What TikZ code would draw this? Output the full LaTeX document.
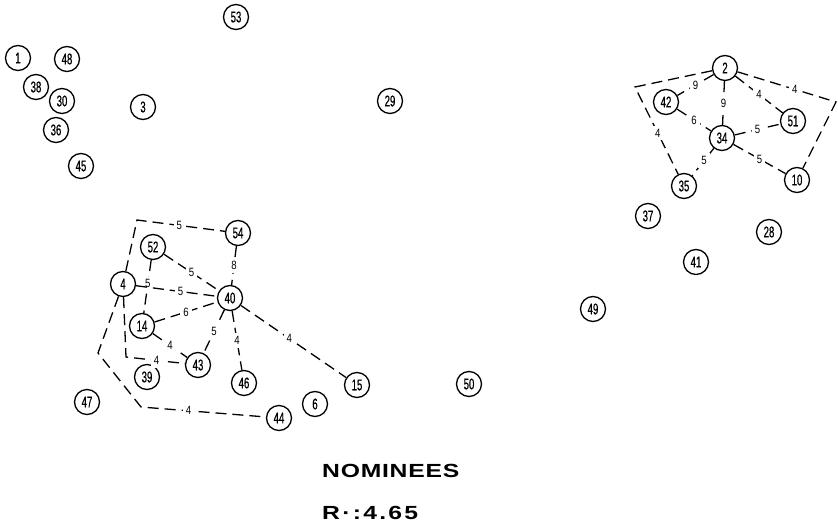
\documentclass[tikz,border=0pt]{standalone}
\usepackage{fontspec}
\usepackage{tikz}
\usetikzlibrary{positioning}
\newfontfamily\numfont[FakeStretch=0.62,FakeBold=0.6]{Liberation Sans}
\newfontfamily\wtfont[FakeStretch=0.8]{Liberation Sans}
\newfontfamily\titlefont[FakeStretch=1.3]{Liberation Sans}
\tikzset{
  person/.style={circle,draw,line width=1.3pt,minimum size=25pt,inner sep=0pt,
    font=\numfont\fontsize{15.5}{15.5}\selectfont},
  tie/.style={line width=1.3pt,dash pattern=on 11pt off 6pt},
  wt/.style={fill=white,inner sep=3pt,font=\wtfont\fontsize{12}{12}\selectfont}
}

\begin{document}
\begin{tikzpicture}[x=1pt,y=-1pt]
    \useasboundingbox (0,0) rectangle (838,524);
%    \draw[gray!30, thin, step=50] (0,0) grid (838,524);

% isolates
    \node[person] (n53) at (236,17) {53};
    \node[person] (n1) at (18,58) {1};
    \node[person] (n48) at (67,59) {48};
    \node[person] (n38) at (36,87) {38};
    \node[person] (n30) at (62,101) {30};
    \node[person] (n3) at (143,107) {3};
    \node[person] (n36) at (56,130) {36};
    \node[person] (n45) at (81,166) {45};
    \node[person] (n29) at (390,101) {29};
    \node[person] (n37) at (648,216) {37};
    \node[person] (n28) at (769,232) {28};
    \node[person] (n41) at (696,262) {41};
    \node[person] (n49) at (593,309) {49};
    \node[person] (n47) at (87,402) {47};
    \node[person] (n39) at (147,377) {39};
    \node[person] (n6) at (315,404) {6};
    \node[person] (n50) at (469,384) {50};

% left group
    \node[person] (n54) at (238,233) {54};
    \node[person] (n52) at (153,247) {52};
    \node[person] (n4) at (123,284) {4};
    \node[person] (n40) at (230,298) {40};
    \node[person] (n14) at (142,326) {14};
    \node[person] (n43) at (198,365) {43};
    \node[person] (n46) at (244,383) {46};
    \node[person] (n15) at (357,385) {15};
    \node[person] (n44) at (279,418) {44};

    \coordinate (a1) at (137,220);
    \coordinate (a2) at (98,353);
    \coordinate (a3) at (141,407);
    \coordinate (a4) at (126,357);

    \draw[tie] (n4) -- (a1) -- node[wt,pos=.48] {5} (n54);
    \draw[tie] (n4) -- (a2) -- (a3) -- node[wt,pos=.38] {4} (n44);
    \draw[tie] (n4) -- (a4) -- node[wt,pos=.52] {4} (n43);
    \draw[tie] (n52) -- node[wt,pos=.45] {5} (n14);
    \draw[tie] (n52) -- node[wt] {5} (n40);
    \draw[tie] (n4) -- node[wt,pos=.55] {5} (n40);
    \draw[tie] (n54) -- node[wt] {8} (n40);
    \draw[tie] (n14) -- node[wt] {6} (n40);
    \draw[tie] (n14) -- node[wt] {4} (n43);
    \draw[tie] (n40) -- node[wt] {5} (n43);
    \draw[tie] (n40) -- node[wt] {4} (n46);
    \draw[tie] (n40) -- node[wt,pos=.46] {4} (n15);

% right group
    \node[person] (n2) at (725,68) {2};
    \node[person] (n42) at (666,102) {42};
    \node[person] (n51) at (793,121) {51};
    \node[person] (n34) at (722,138) {34};
    \node[person] (n35) at (684,186) {35};
    \node[person] (n10) at (797,180) {10};

    \coordinate (b1) at (635,87);
    \coordinate (b2) at (836,102);

    \draw[tie] (n2) -- (b1) -- node[wt,pos=.53] {4} (n35);
    \draw[tie] (n2) -- node[wt,pos=.58] {4} (b2) -- (n10);
    \draw[tie] (n2) -- node[wt] {9} (n42);
    \draw[tie] (n2) -- node[wt] {9} (n34);
    \draw[tie] (n2) -- node[wt] {4} (n51);
    \draw[tie] (n42) -- node[wt] {6} (n34);
    \draw[tie] (n34) -- node[wt] {5} (n51);
    \draw[tie] (n34) -- node[wt,pos=.45] {5} (n35);
    \draw[tie] (n34) -- node[wt] {5} (n10);

% caption
    \node[anchor=base west,inner sep=0pt,font=\titlefont\bfseries\fontsize{19}{19}\selectfont\addfontfeature{LetterSpace=4}] (cap) at (322,477) {NOMINEES};
    \node[anchor=base west,inner sep=0pt,font=\titlefont\bfseries\fontsize{19}{19}\selectfont\addfontfeature{LetterSpace=12}] (rval) at (322,519) {R·:4.65};

\end{tikzpicture}
\end{document}
